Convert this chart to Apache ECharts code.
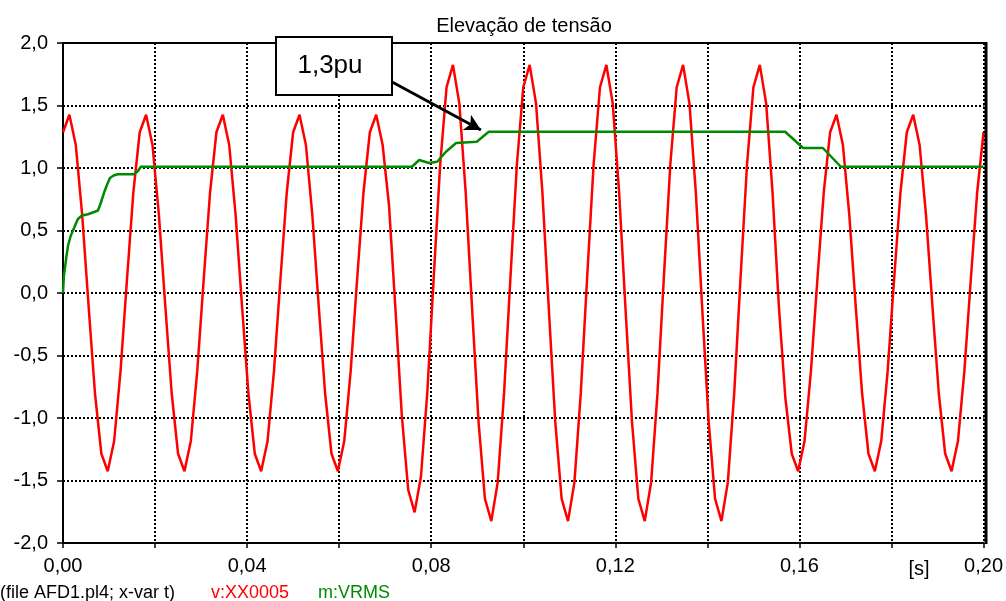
<!DOCTYPE html>
<html>
<head>
<meta charset="utf-8">
<script src="https://cdn.jsdelivr.net/npm/echarts@6/dist/echarts.min.js"></script>
<style>html,body{margin:0;padding:0;background:#fff}#c{width:1006px;height:601px}</style>
</head>
<body>
<div id="c"></div>
<script>
// ---- data ----
const titleText = 'Elevação de tensão';
const redName = 'v:XX0005';
const greenName = 'm:VRMS';
const fileText = '(file AFD1.pl4; x-var t)';
const annotText = '1,3pu';
const xUnitText = '[s]';

// red voltage waveform, sampled every redStep seconds starting at t = 0
const redStep = 1 / 720;
const redV = [
  1.286, 1.426, 1.184, 0.625, -0.102, -0.802, -1.286, -1.426, -1.184, -0.625, 0.102, 0.802,
  1.286, 1.426, 1.184, 0.625, -0.102, -0.802, -1.286, -1.426, -1.184, -0.625, 0.102, 0.802,
  1.286, 1.426, 1.184, 0.625, -0.102, -0.802, -1.286, -1.426, -1.184, -0.625, 0.102, 0.802,
  1.286, 1.426, 1.184, 0.625, -0.102, -0.802, -1.286, -1.426, -1.184, -0.625, 0.102, 0.802,
  1.286, 1.426, 1.184, 0.700, -0.125, -0.980, -1.574, -1.755, -1.466, -0.786, 0.131, 1.026,
  1.646, 1.825, 1.515, 0.799, -0.131, -1.026, -1.646, -1.825, -1.515, -0.799, 0.131, 1.026,
  1.646, 1.825, 1.515, 0.799, -0.131, -1.026, -1.646, -1.825, -1.515, -0.799, 0.131, 1.026,
  1.646, 1.825, 1.515, 0.799, -0.131, -1.026, -1.646, -1.825, -1.515, -0.799, 0.131, 1.026,
  1.646, 1.825, 1.515, 0.799, -0.131, -1.026, -1.646, -1.825, -1.515, -0.799, 0.131, 1.026,
  1.646, 1.825, 1.515, 0.799, -0.120, -0.840, -1.286, -1.426, -1.184, -0.625, 0.102, 0.802,
  1.286, 1.426, 1.184, 0.625, -0.102, -0.802, -1.286, -1.426, -1.184, -0.625, 0.102, 0.802,
  1.286, 1.426, 1.184, 0.625, -0.102, -0.802, -1.286, -1.426, -1.184, -0.625, 0.102, 0.802,
  1.286
];

// green RMS curve breakpoints
const greenT = [0, 0.0002, 0.0007, 0.0011, 0.0017, 0.0024, 0.0032, 0.0041, 0.0054, 0.0069, 0.0076,
  0.0082, 0.0089, 0.0095, 0.0102, 0.0110, 0.0119, 0.0154, 0.0163, 0.0169,
  0.0758, 0.0774, 0.0795, 0.0813, 0.0832, 0.0854, 0.0899, 0.0925,
  0.1569, 0.1608, 0.1651, 0.1690, 0.2];
const greenV = [0, 0.14, 0.28, 0.38, 0.46, 0.52, 0.59, 0.62, 0.63, 0.65, 0.66,
  0.72, 0.80, 0.86, 0.92, 0.94, 0.95, 0.95, 0.976, 1.01,
  1.01, 1.064, 1.04, 1.05, 1.13, 1.20, 1.21, 1.29,
  1.29, 1.16, 1.16, 1.01, 1.01];

// annotation arrow (data coordinates)
const arrowFrom = [0.0715, 1.688];
const arrowTo = [0.0908, 1.304];

const xMin = 0, xMax = 0.2, xInterval = 0.02, xLabelEvery = 0.04;
const yMin = -2, yMax = 2, yInterval = 0.5;

// ---- build ----
const redData = redV.map((v, i) => [i * redStep, v]);
const greenData = greenT.map((t, i) => [t, greenV[i]]);

const FONT = '"Liberation Sans", Arial, Helvetica, sans-serif';
const chart = echarts.init(document.getElementById('c'), null, {renderer: 'canvas'});

chart.setOption({
  animation: false,
  backgroundColor: '#fff',
  grid: {left: 63, right: 20, top: 43, bottom: 58, containLabel: false},
  xAxis: {
    type: 'value', min: xMin, max: xMax, interval: xInterval,
    axisLine: {show: true, onZero: false, lineStyle: {color: '#000', width: 2}},
    axisTick: {show: true, length: 5, lineStyle: {color: '#000', width: 1.5}},
    splitLine: {show: true, lineStyle: {color: '#000', width: 2, type: [2, 2]}},
    axisLabel: {
      color: '#000', fontSize: 20, fontFamily: FONT, margin: 13,
      formatter: v => {
        const r = v / xLabelEvery;
        return Math.abs(r - Math.round(r)) < 1e-6 ? v.toFixed(2).replace('.', ',') : '';
      }
    }
  },
  yAxis: {
    type: 'value', min: yMin, max: yMax, interval: yInterval,
    axisLine: {show: true, onZero: false, lineStyle: {color: '#000', width: 2}},
    axisTick: {show: true, length: 6, lineStyle: {color: '#000', width: 1.5}},
    splitLine: {show: true, lineStyle: {color: '#000', width: 2, type: [2, 2]}},
    axisLabel: {
      color: '#000', fontSize: 20, fontFamily: FONT, margin: 15,
      formatter: v => v.toFixed(1).replace('.', ',')
    }
  },
  series: [
    {
      name: redName, type: 'line', data: redData, showSymbol: false, z: 3,
      lineStyle: {color: '#ff0000', width: 2.5}, itemStyle: {color: '#ff0000'}
    },
    {
      name: greenName, type: 'line', data: greenData, showSymbol: false, z: 4,
      lineStyle: {color: '#008a00', width: 2.5}, itemStyle: {color: '#008a00'},
      markLine: {
        silent: true, animation: false,
        symbol: ['none', 'arrow'], symbolSize: [13, 16],
        label: {show: false},
        lineStyle: {color: '#000', width: 3, type: 'solid'},
        data: [[{coord: arrowFrom}, {coord: arrowTo}]]
      }
    }
  ],
  graphic: [
    {type: 'line', z: 10, shape: {x1: 63, y1: 43, x2: 986, y2: 43}, style: {stroke: '#000', lineWidth: 2}},
    {type: 'line', z: 10, shape: {x1: 986, y1: 42, x2: 986, y2: 544}, style: {stroke: '#000', lineWidth: 3}},
    {type: 'text', z: 10, x: 524, y: 26, style: {text: titleText, font: '20px ' + FONT, fill: '#000', textAlign: 'center', textVerticalAlign: 'middle'}},
    {type: 'rect', z: 20, shape: {x: 276, y: 37, width: 116, height: 58}, style: {fill: '#fff', stroke: '#000', lineWidth: 2}},
    {type: 'text', z: 21, x: 330, y: 66, style: {text: annotText, font: '26px ' + FONT, fill: '#000', textAlign: 'center', textVerticalAlign: 'middle'}},
    {type: 'text', z: 10, x: 919, y: 569, style: {text: xUnitText, font: '20px ' + FONT, fill: '#000', textAlign: 'center', textVerticalAlign: 'middle'}},
    {type: 'text', z: 10, x: 0, y: 593, style: {text: fileText, font: '18px ' + FONT, fill: '#000', textAlign: 'left', textVerticalAlign: 'middle'}},
    {type: 'text', z: 10, x: 211, y: 593, style: {text: redName, font: '18px ' + FONT, fill: '#ff0000', textAlign: 'left', textVerticalAlign: 'middle'}},
    {type: 'text', z: 10, x: 318, y: 593, style: {text: greenName, font: '18px ' + FONT, fill: '#008a00', textAlign: 'left', textVerticalAlign: 'middle'}}
  ]
});
</script>
</body>
</html>
